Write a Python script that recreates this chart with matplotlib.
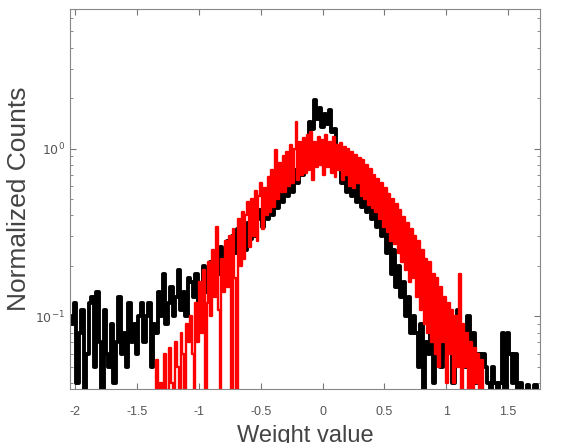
import numpy as np
import matplotlib.pyplot as plt

# weight histograms, normalized counts
black_x = np.linspace(-2.04, 1.74, 190)
black_counts = [
    0.10, 0.09, 0.12, 0.04, 0.08, 0.11, 0.03, 0.06, 0.12, 0.13,
    0.05, 0.14, 0.07, 0.03, 0.11, 0.06, 0.05, 0.09, 0.04, 0.07,
    0.13, 0.06, 0.08, 0.05, 0.12, 0.07, 0.09, 0.06, 0.10, 0.12,
    0.07, 0.10, 0.12, 0.05, 0.09, 0.08, 0.14, 0.10, 0.18, 0.09,
    0.12, 0.15, 0.10, 0.13, 0.19, 0.11, 0.14, 0.10, 0.17, 0.16,
    0.13, 0.18, 0.12, 0.15, 0.20, 0.14, 0.19, 0.21, 0.15, 0.24,
    0.18, 0.26, 0.19, 0.25, 0.28, 0.20, 0.30, 0.24, 0.33, 0.26,
    0.32, 0.25, 0.36, 0.29, 0.40, 0.30, 0.38, 0.43, 0.34, 0.47,
    0.38, 0.50, 0.40, 0.55, 0.44, 0.60, 0.48, 0.64, 0.52, 0.70,
    0.55, 0.75, 0.62, 0.82, 0.70, 1.10, 0.85, 1.45, 1.30, 1.95,
    1.50, 1.75, 1.35, 1.60, 1.40, 1.70, 1.25, 1.30, 0.80, 0.95,
    0.62, 0.78, 0.55, 0.70, 0.52, 0.64, 0.48, 0.60, 0.45, 0.55,
    0.42, 0.52, 0.38, 0.48, 0.34, 0.44, 0.30, 0.38, 0.24, 0.32,
    0.18, 0.25, 0.15, 0.20, 0.13, 0.16, 0.10, 0.13, 0.08, 0.10,
    0.08, 0.05, 0.09, 0.03, 0.07, 0.06, 0.08, 0.04, 0.07, 0.09,
    0.05, 0.08, 0.06, 0.10, 0.07, 0.04, 0.09, 0.11, 0.06, 0.08,
    0.05, 0.10, 0.07, 0.08, 0.04, 0.06, 0.03, 0.06, 0.05, 0.04,
    0.03, 0.05, 0.04, 0.03, 0.04, 0.08, 0.03, 0.08, 0.06, 0.04,
    0.06, 0.03, 0.04, 0.03, 0.03, 0.039, 0.03, 0.03, 0.039, 0.03,
]

red_x = np.linspace(-1.35, 1.335, 180)
red_counts = [
    0.03, 0.055, 0.03, 0.04, 0.03, 0.06, 0.035, 0.03, 0.065, 0.04,
    0.03, 0.07, 0.05, 0.03, 0.08, 0.06, 0.03, 0.09, 0.07, 0.10,
    0.06, 0.03, 0.12, 0.07, 0.16, 0.08, 0.19, 0.03, 0.12, 0.21,
    0.10, 0.25, 0.13, 0.34, 0.11, 0.03, 0.22, 0.14, 0.28, 0.15,
    0.30, 0.03, 0.33, 0.17, 0.03, 0.38, 0.20, 0.42, 0.22, 0.40,
    0.48, 0.26, 0.50, 0.30, 0.56, 0.28, 0.52, 0.62, 0.33, 0.58,
    0.40, 0.68, 0.42, 0.75, 0.45, 0.98, 0.50, 0.82, 0.55, 0.90,
    0.55, 0.95, 0.60, 1.05, 0.62, 1.00, 1.45, 0.65, 1.10, 0.70,
    1.15, 0.72, 1.20, 0.75, 1.25, 0.65, 1.10, 0.78, 1.18, 0.80,
    1.12, 0.70, 1.20, 0.78, 1.10, 0.72, 1.18, 0.68, 1.05, 0.75,
    1.08, 0.65, 1.02, 0.70, 1.00, 0.60, 0.95, 0.58, 0.92, 0.62,
    0.88, 0.52, 0.85, 0.50, 0.80, 0.46, 0.76, 0.44, 0.70, 0.42,
    0.66, 0.38, 0.62, 0.34, 0.58, 0.32, 0.54, 0.28, 0.50, 0.27,
    0.47, 0.24, 0.43, 0.21, 0.39, 0.19, 0.36, 0.16, 0.33, 0.17,
    0.30, 0.13, 0.28, 0.11, 0.25, 0.09, 0.22, 0.08, 0.21, 0.07,
    0.18, 0.06, 0.17, 0.05, 0.15, 0.07, 0.13, 0.04, 0.12, 0.06,
    0.11, 0.04, 0.10, 0.05, 0.18, 0.035, 0.09, 0.05, 0.08, 0.035,
    0.07, 0.03, 0.065, 0.04, 0.06, 0.03, 0.055, 0.035, 0.03, 0.03,
]

xticks = [-2, -1.5, -1, -0.5, 0, 0.5, 1, 1.5]
xtick_labels = ['-2', '-1.5', '-1', '-0.5', '0', '0.5', '1', '1.5']

plt.rcParams['font.family'] = ['Liberation Sans', 'DejaVu Sans']

fig = plt.figure(figsize=(5.61, 4.43), dpi=100)
ax = fig.add_axes([0.125, 0.122, 0.838, 0.858])

ax.step(black_x, black_counts, where='mid', color='black', linewidth=2.8)
ax.step(red_x, red_counts, where='mid', color='#ff0000', linewidth=1.7)

ax.set_yscale('log')
ax.set_xlim(-2.04, 1.76)
ax.set_ylim(0.037, 6.8)

grey = '#555555'
ax.set_xticks(xticks)
ax.set_xticklabels(xtick_labels)
ax.set_yticks([0.1, 1])
ax.set_yticklabels([r'$10^{-1}$', r'$10^{0}$'])
ax.tick_params(which='both', direction='in', top=True, right=True,
               colors='#777777', labelcolor=grey, labelsize=9)
ax.tick_params(which='major', length=4)
ax.tick_params(which='minor', length=2)
ax.tick_params(axis='x', pad=12)
for s in ax.spines.values():
    s.set_color('#888888')
    s.set_linewidth(0.8)

ax.set_ylabel('Normalized Counts', fontsize=19, color='#444444')
ax.yaxis.set_label_coords(-0.084, 0.5)
ax.set_xlabel('Weight value', fontsize=17, color='#444444')
ax.xaxis.set_label_coords(0.5, -0.094)

fig.savefig('out.png', dpi=100)
